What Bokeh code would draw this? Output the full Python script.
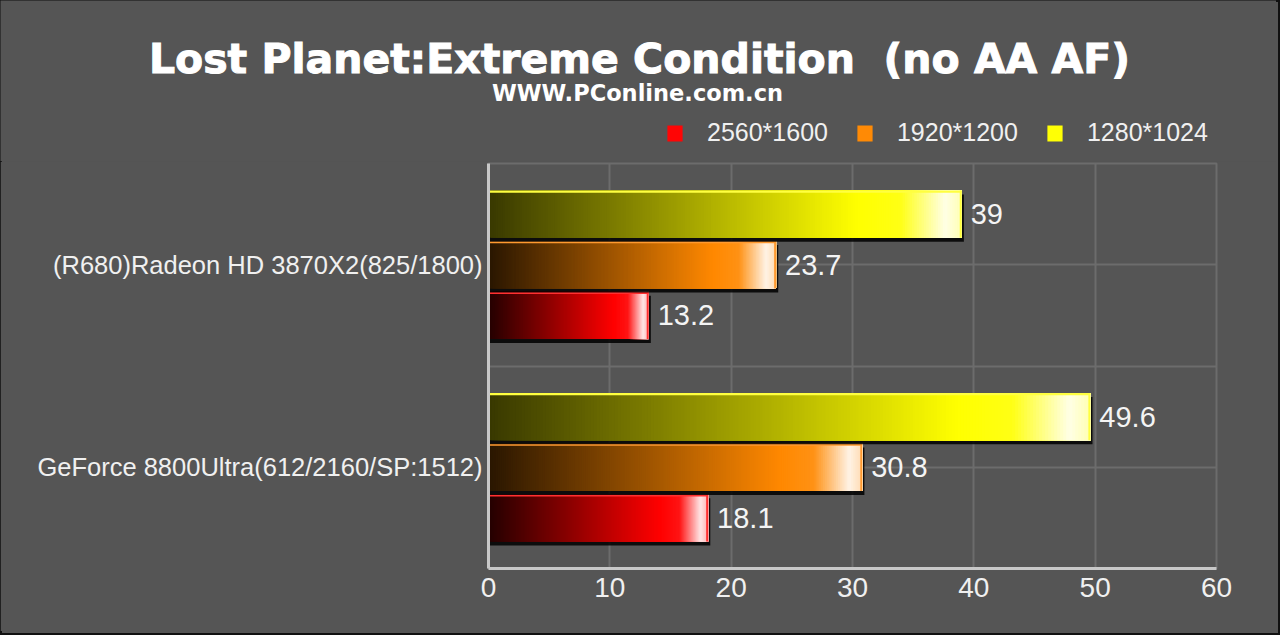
import numpy as np
from bokeh.plotting import figure
from bokeh.layouts import column
from bokeh.models import (ColumnDataSource, Range1d, FixedTicker, LabelSet, Label,
                          Legend, LegendItem)
from bokeh.core.properties import value
from bokeh.embed import file_html
from bokeh.resources import INLINE

# ---------------- data ----------------
title_text = "Lost Planet:Extreme Condition\u00a0 (no AA AF)"
subtitle_text = "WWW.PConline.com.cn"
devices = ["(R680)Radeon HD 3870X2(825/1800)", "GeForce 8800Ultra(612/2160/SP:1512)"]
resolutions = ["2560*1600", "1920*1200", "1280*1024"]
fps_2560 = [13.2, 18.1]
fps_1920 = [23.7, 30.8]
fps_1280 = [39, 49.6]
x_ticks = [0, 10, 20, 30, 40, 50, 60]

series_values = {"2560*1600": fps_2560, "1920*1200": fps_1920, "1280*1024": fps_1280}

# ---------------- styles ----------------
BG = "#555555"
series_rgb = {"2560*1600": (255, 0, 0), "1920*1200": (255, 136, 0), "1280*1024": (255, 255, 0)}
series_dark = {"2560*1600": 0.14, "1920*1200": 0.16, "1280*1024": 0.22}
series_edge = {"2560*1600": "#ff3030", "1920*1200": "#ff9a30", "1280*1024": "#ffff40"}
series_offset = {"2560*1600": -0.25, "1920*1200": 0.0, "1280*1024": 0.25}
HH = 0.117      # half bar height (band units)
NSEG = 200


def shade(rgb, dark, t):
    stops = [(0.0, dark, 0.0), (0.78, 1.0, 0.0), (0.87, 1.0, 0.08),
             (0.965, 1.0, 0.9), (1.0, 1.0, 0.7)]
    for (t0, b0, w0), (t1, b1, w1) in zip(stops[:-1], stops[1:]):
        if t0 <= t <= t1:
            f = (t - t0) / (t1 - t0)
            b = b0 + (b1 - b0) * f
            w = w0 + (w1 - w0) * f
            break
    c = [min(255, max(0, int(round((ch * b) * (1 - w) + 255 * w)))) for ch in rgb]
    return "#%02x%02x%02x" % tuple(c)


W = 1276
HEAD_H = 161
MAIN_H = 470

# ---------------- header (title, subtitle, legend) ----------------
head = figure(width=W, height=HEAD_H, output_backend="svg", toolbar_location=None,
              title=None, x_range=Range1d(0, W), y_range=Range1d(0, HEAD_H),
              x_axis_type=None, y_axis_type=None, min_border=0)
head.frame_align = False
head.background_fill_color = BG
head.border_fill_color = BG
head.outline_line_color = None

head.add_layout(Label(x=639, y=103, x_units="screen", y_units="screen", text=title_text,
                      text_align="center", text_baseline="alphabetic", text_color="#ffffff",
                      text_outline_color="#ffffff",
                      text_font="DejaVu Sans", text_font_style="bold", text_font_size="41px"))
head.add_layout(Label(x=637, y=69, x_units="screen", y_units="screen", text=subtitle_text,
                      text_align="center", text_baseline="alphabetic", text_color="#ffffff",
                      text_font="DejaVu Sans", text_font_style="bold", text_font_size="22.5px"))

legend_items = []
for res in resolutions:
    # one off-canvas swatch per series, used only as the legend glyph
    lr = head.quad(left=[-50], right=[-40], bottom=[-50], top=[-40],
                   fill_color=shade(series_rgb[res], series_dark[res], 0.8),
                   line_color=None)
    legend_items.append(LegendItem(label=res, renderers=[lr]))

legend = Legend(items=legend_items, orientation="horizontal", location=(665, 14),
                glyph_width=19, glyph_height=20, label_standoff=23, spacing=27,
                label_text_color="#f0f0f0", label_text_font="Liberation Sans",
                label_text_font_style="normal",
                label_text_font_size="25px", background_fill_alpha=0,
                border_line_alpha=0, padding=0, margin=0)
head.add_layout(legend)

# ---------------- main chart ----------------
p = figure(width=W, height=MAIN_H, output_backend="svg", toolbar_location=None,
           title=None, x_range=Range1d(0, 60), y_range=Range1d(0, len(devices)),
           min_border_left=488, min_border_right=60, min_border_top=2, min_border_bottom=63)
p.frame_align = False
p.background_fill_color = BG
p.border_fill_color = BG
p.outline_line_color = "#6c6c6c"
p.outline_line_width = 2

n = len(devices)
centers = [n - 1 - i + 0.5 for i in range(n)]

for res in resolutions:
    vals = series_values[res]
    rgb = series_rgb[res]
    off = series_offset[res]
    seg = dict(left=[], right=[], bottom=[], top=[], color=[])
    shadow = dict(left=[], right=[], bottom=[], top=[])
    edge = dict(left=[], right=[], bottom=[], top=[])
    redge = dict(left=[], right=[], bottom=[], top=[])
    lab = dict(x=[], y=[], text=[])
    for i, v in enumerate(vals):
        yc = centers[i] + off
        edges = np.linspace(0, v, NSEG + 1)
        for k in range(NSEG):
            t = (k + 0.5) / NSEG
            # each slice runs to the bar end; later slices paint over earlier ones
            seg["left"].append(edges[k])
            seg["right"].append(v)
            seg["bottom"].append(yc - HH)
            seg["top"].append(yc + HH)
            seg["color"].append(shade(rgb, series_dark[res], t))
        shadow["left"].append(0.1); shadow["right"].append(v + 0.18)
        shadow["bottom"].append(yc - HH - 0.02); shadow["top"].append(yc + HH - 0.02)
        edge["left"].append(0); edge["right"].append(v)
        edge["bottom"].append(yc + HH - 0.011); edge["top"].append(yc + HH)
        redge["left"].append(v - 0.16); redge["right"].append(v)
        redge["bottom"].append(yc - HH); redge["top"].append(yc + HH)
        lab["x"].append(v); lab["y"].append(yc); lab["text"].append(f"{v:g}")
    p.quad(source=ColumnDataSource(shadow), left="left", right="right", bottom="bottom",
           top="top", fill_color="#000000", fill_alpha=0.85, line_color=None)
    p.quad(source=ColumnDataSource(seg), left="left", right="right", bottom="bottom",
           top="top", fill_color="color", line_color=None)
    p.quad(source=ColumnDataSource(edge), left="left", right="right", bottom="bottom",
           top="top", fill_color=series_edge[res], line_color=None)
    p.quad(source=ColumnDataSource(redge), left="left", right="right", bottom="bottom",
           top="top", fill_color=series_edge[res], line_color=None)
    p.add_layout(LabelSet(source=ColumnDataSource(lab), x="x", y="y", text="text",
                          x_offset=9, text_baseline="middle", text_align="left",
                          text_color="#f4f4f4", text_font=value("Liberation Sans"),
                          text_font_size="29px"))

# axes
p.xaxis.ticker = FixedTicker(ticks=x_ticks)
p.xaxis.major_label_text_color = "#f0f0f0"
p.xaxis.major_label_text_font = "Liberation Sans"
p.xaxis.major_label_text_font_size = "28px"
p.xaxis.major_label_standoff = 3
p.xaxis.axis_line_color = "#c8c8c8"
p.xaxis.axis_line_width = 3
p.xaxis.major_tick_line_color = None
p.xaxis.minor_tick_line_color = None

p.yaxis.ticker = FixedTicker(ticks=centers)
p.yaxis.major_label_overrides = {c: d for c, d in zip(centers, devices)}
p.yaxis.major_label_text_color = "#f0f0f0"
p.yaxis.major_label_text_font = "Liberation Sans"
p.yaxis.major_label_text_font_size = "25.5px"
p.yaxis.major_label_standoff = 0
p.yaxis.axis_line_color = "#c8c8c8"
p.yaxis.axis_line_width = 3
p.yaxis.major_tick_line_color = None
p.yaxis.minor_tick_line_color = None

p.xgrid.grid_line_color = "#6c6c6c"
p.xgrid.grid_line_width = 2
p.ygrid.ticker = FixedTicker(ticks=[k * 0.5 for k in range(2 * n + 1)])
p.ygrid.grid_line_color = "#6c6c6c"
p.ygrid.grid_line_width = 2

layout = column(head, p, spacing=0)

html = file_html(layout, INLINE)
html = html.replace("<head>", "<head><style>html{background:#555555;margin:0;}"
                    "body{margin:0;padding:2px;width:1280px;height:635px;box-sizing:border-box;"
                    "background:#555555;box-shadow:inset 0 0 0 2px #111111;}</style>", 1)
open("out.html", "w").write(html)
